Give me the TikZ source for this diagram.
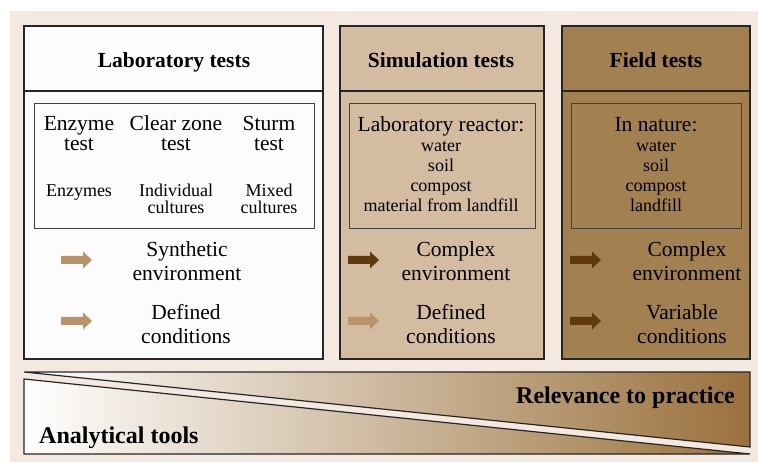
\documentclass[tikz,border=0pt]{standalone}
\usepackage{fontspec}
\setmainfont{Liberation Serif}
\usetikzlibrary{positioning}
\usepackage{xcolor}
\definecolor{bgbeige}{HTML}{F3E9E0}
\definecolor{labwhite}{HTML}{FCFCFC}
\definecolor{simtan}{HTML}{D4BCA1}
\definecolor{fieldbrown}{HTML}{A38050}
\definecolor{lightarrow}{HTML}{B89468}
\definecolor{darkarrow}{HTML}{603A0C}
\definecolor{gradbrown}{HTML}{9A713C}

\begin{document}
\begin{tikzpicture}[
  x=1pt, y=-1pt,
  panel/.style={draw=black!85, line width=1.2pt},
  innerbox/.style={draw=black!75, line width=0.9pt},
  heading/.style={font=\fontsize{21.5}{24}\selectfont\bfseries, anchor=base, inner sep=0pt},
  testtext/.style={font=\fontsize{21.5}{19.5}\selectfont, align=center, anchor=base, inner sep=0pt},
  culttext/.style={font=\fontsize{18}{17}\selectfont, align=center, anchor=base, inner sep=0pt},
  envtext/.style={font=\fontsize{21.5}{24}\selectfont, align=center, anchor=base, inner sep=0pt},
  listtext/.style={font=\fontsize{18}{20}\selectfont, align=center, anchor=base, inner sep=0pt},
  bandlabel/.style={font=\fontsize{24}{28}\selectfont\bfseries, inner sep=0pt},
  bandline/.style={draw=black!85, line width=1.2pt},
  blockarrow/.pic={\fill[pic actions] (0,-4) -- (22,-4) -- (22,-8.5) -- (31,0) -- (22,8.5) -- (22,4) -- (0,4) -- cycle;}
]
  \useasboundingbox (0,0) rectangle (758,462);
  \fill[bgbeige] (10,11) rectangle (758,462);

  % Panels (three columns)
  \draw[panel, fill=labwhite]   (24,26)  rectangle (323,359);
  \draw[panel, fill=simtan]     (340,26) rectangle (544,359);
  \draw[panel, fill=fieldbrown] (562,26) rectangle (750,359);
  \foreach \xa/\xb in {24/323, 340/544, 562/750} {
    \draw[panel] (\xa,91) -- (\xb,91);
  }

  % Headings
  \node[heading] (labhead)   at (174,68) {Laboratory tests};
  \node[heading] (simhead)   at (441,68) {Simulation tests};
  \node[heading] (fieldhead) at (656,68) {Field tests};

  % Inner boxes
  \draw[innerbox] (34,103)  rectangle (314,228);
  \draw[innerbox] (349,103) rectangle (535,228);
  \draw[innerbox] (571,103) rectangle (741,228);

  % Laboratory tests: methods and cultures (base = last line)
  \node[testtext] (enzyme) at (79,150.5)  {Enzyme\\test};
  \node[testtext] (clear)  at (176,150.5) {Clear zone\\test};
  \node[testtext] (sturm)  at (269,150.5) {Sturm\\test};
  \node[culttext] (enz)    at (79,197)  {Enzymes};
  \node[culttext] (indiv)  at (176,213.5) {Individual\\cultures};
  \node[culttext] (mixed)  at (269,213.5) {Mixed\\cultures};

  % Media lists
  \node[listtext] (reactor) at (441,211.7)
    {{\fontsize{21.5}{20}\selectfont Laboratory reactor:}\\water\\soil\\compost\\material from landfill};
  \node[listtext] (nature) at (656,211.7)
    {{\fontsize{21.5}{20}\selectfont In nature:}\\water\\soil\\compost\\landfill};

  % Arrows and conditions
  \pic[fill=lightarrow] (labarrA)   at (61,260)  {blockarrow};
  \pic[fill=lightarrow] (labarrB)   at (61,321)  {blockarrow};
  \pic[fill=darkarrow]  (simarrA)   at (348,260) {blockarrow};
  \pic[fill=lightarrow] (simarrB)   at (348,321) {blockarrow};
  \pic[fill=darkarrow]  (fieldarrA) at (570,260) {blockarrow};
  \pic[fill=darkarrow]  (fieldarrB) at (570,321) {blockarrow};

  \node[envtext] (labenv)   at (187,280.7) {Synthetic\\environment};
  \node[envtext] (labcond)  at (186,344) {Defined\\conditions};
  \node[envtext] (simenv)   at (456,280.7) {Complex\\environment};
  \node[envtext] (simcond)  at (451,344) {Defined\\conditions};
  \node[envtext] (fieldenv) at (687,280.7) {Complex\\environment};
  \node[envtext] (fieldcond) at (682,344) {Variable\\conditions};

  % Bottom band: two wedges
  \shade[left color=white, right color=gradbrown] (24,372) -- (750,372) -- (750,447) -- cycle;
  \draw[bandline] (24,372) -- (750,372) -- (750,447) -- cycle;
  \shade[left color=white, right color=gradbrown] (24,379) -- (750,454) -- (24,454) -- cycle;
  \draw[bandline] (24,379) -- (750,454) -- (24,454) -- cycle;

  \node[bandlabel, anchor=base east] (relevance)  at (735,403) {Relevance to practice};
  \node[bandlabel, anchor=base west] (analytical) at (39,443)  {Analytical tools};
\end{tikzpicture}
\end{document}
